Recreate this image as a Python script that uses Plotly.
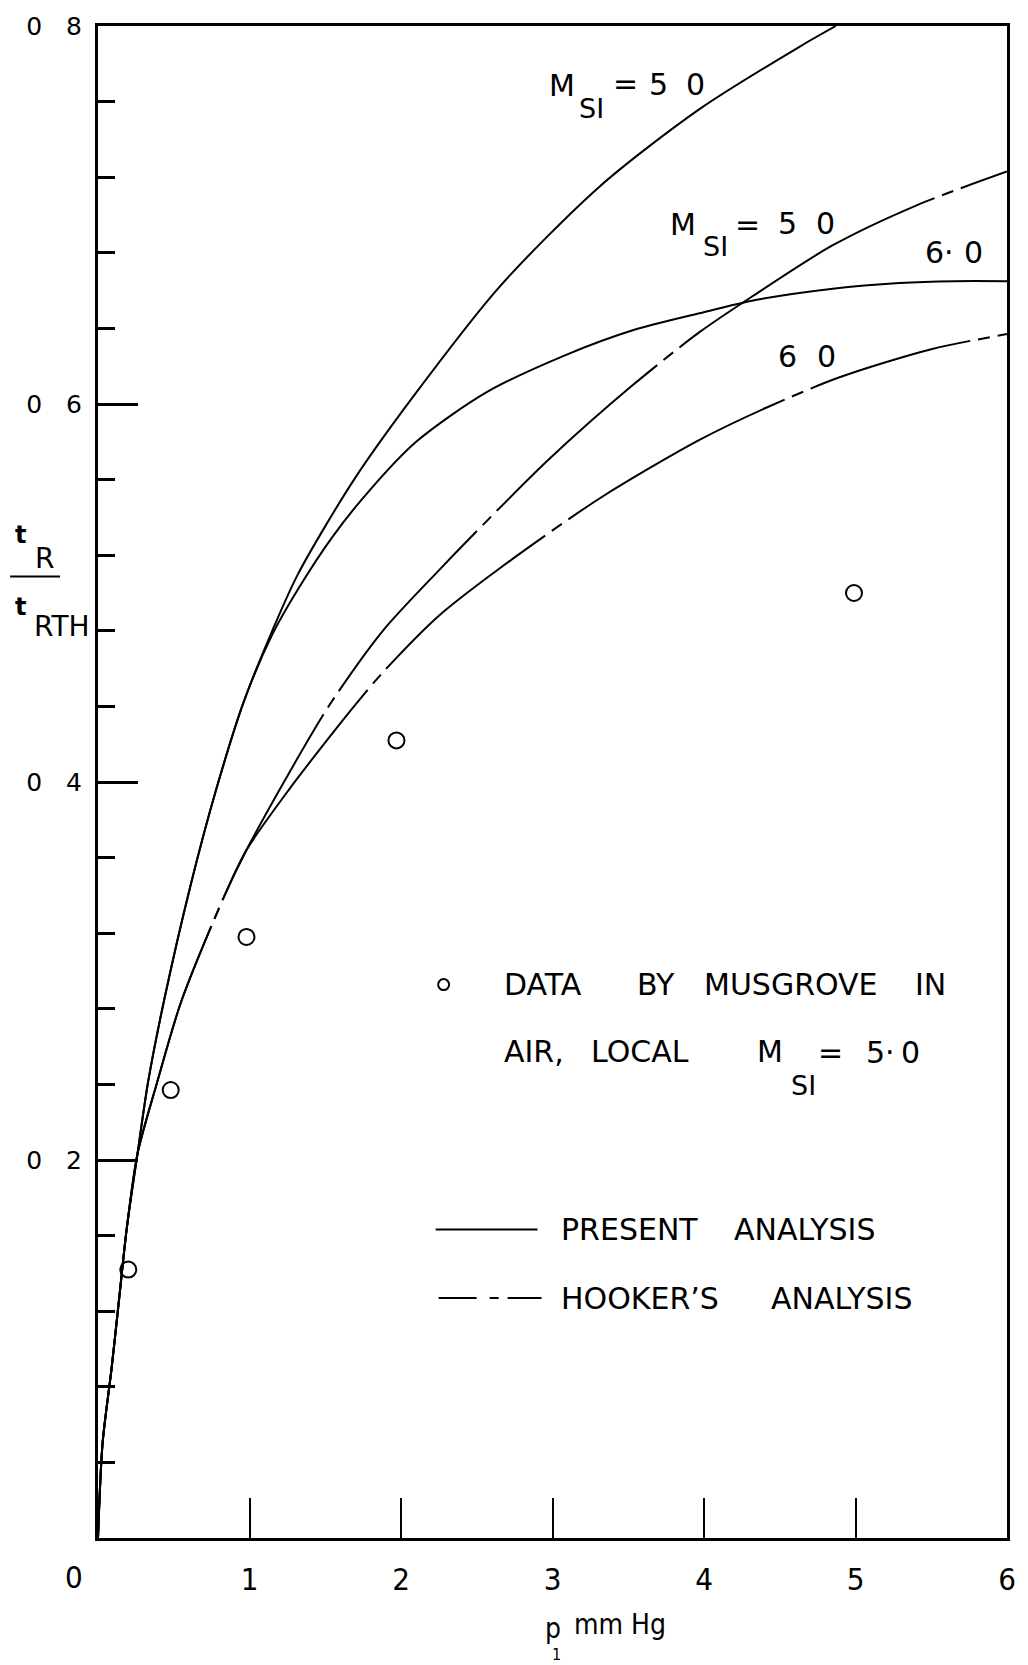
import plotly.graph_objects as go

# ---- curve data: t_R / t_RTH against p1 (mm Hg) ----
# Present analysis, M_SI = 5.0
present_m5_x = [0, 0.03, 0.09, 0.14, 0.19, 0.26, 0.33, 0.435, 0.61, 0.78, 0.96, 1.15, 1.32,
                1.69, 2.10, 2.65, 3.31, 3.97, 4.63, 4.87]
present_m5_y = [0, 0.50, 0.90, 1.27, 1.64, 2.03, 2.41, 2.84, 3.45, 3.96, 4.42, 4.80, 5.10,
                5.60, 6.06, 6.62, 7.15, 7.56, 7.89, 8.00]

# Present analysis, M_SI = 6.0
present_m6_x = [0, 0.03, 0.09, 0.14, 0.19, 0.26, 0.33, 0.435, 0.61, 0.78, 0.96, 1.15, 1.32,
                1.55, 1.80, 2.10, 2.56, 3.09, 3.53, 3.97, 4.34, 4.85, 5.29, 5.65, 6.00]
present_m6_y = [0, 0.50, 0.90, 1.27, 1.64, 2.03, 2.41, 2.84, 3.45, 3.96, 4.42, 4.78, 5.02,
                5.30, 5.55, 5.80, 6.06, 6.26, 6.39, 6.48, 6.55, 6.61, 6.64, 6.65, 6.65]

# Hooker's analysis, M_SI = 5.0
hooker_m5_x = [0, 0.03, 0.09, 0.14, 0.19, 0.26, 0.39, 0.55, 0.83, 0.98, 1.27, 1.53, 1.88,
               2.25, 2.43, 2.98, 3.53, 3.97, 4.32, 4.85, 5.40, 6.00]
hooker_m5_y = [0, 0.50, 0.90, 1.27, 1.64, 2.03, 2.41, 2.84, 3.39, 3.64, 4.06, 4.41, 4.80,
               5.12, 5.27, 5.71, 6.10, 6.38, 6.57, 6.84, 7.05, 7.23]

# Hooker's analysis, M_SI = 6.0
hooker_m6_x = [0, 0.03, 0.09, 0.14, 0.19, 0.26, 0.39, 0.55, 0.83, 0.98, 1.27, 1.53, 1.71,
               1.88, 2.25, 2.65, 3.31, 3.97, 4.41, 4.89, 5.50, 6.00]
hooker_m6_y = [0, 0.50, 0.90, 1.27, 1.64, 2.03, 2.41, 2.84, 3.39, 3.64, 3.97, 4.24, 4.42,
               4.58, 4.88, 5.13, 5.50, 5.81, 5.98, 6.14, 6.29, 6.37]

# Musgrove's measurements in air, local M_SI = 5.0
musgrove_x = [0.20, 0.48, 0.98, 1.97, 4.99]
musgrove_y = [1.42, 2.37, 3.18, 4.22, 5.00]

x_tick_vals = [1, 2, 3, 4, 5, 6]
x_tick_text = ["1", "2", "3", "4", "5", "6"]
y_tick_vals = [0, 2, 4, 6, 8]
y_tick_text = ["", "0\u00a0\u00a0\u00a02", "0\u00a0\u00a0\u00a04", "0\u00a0\u00a0\u00a06", "0\u00a0\u00a0\u00a08"]

# ---- canvas geometry ----
W, H = 1028, 1665
ML, MR, MT, MB = 98, 20, 19, 127
PW, PH = W - ML - MR, H - MT - MB

FONT = "DejaVu Sans"
COND = "DejaVu Sans Condensed, DejaVu Sans"
INK = "black"


def paper(px, py):
    """Canvas pixel position -> paper coordinates."""
    return (px - ML) / PW, (H - MB - py) / PH


def chain(*runs):
    """Chain-line dash: long runs separated by a gap / short dash / gap group."""
    parts = []
    for r in runs:
        parts += [f"{r}px", "8px", "12px", "8px"]
    parts += ["3000px", "8px"]
    return ",".join(parts)


fig = go.Figure()

curve = dict(color=INK, width=2, shape="spline", smoothing=0.8)

fig.add_trace(go.Scatter(x=present_m5_x, y=present_m5_y, mode="lines", line=curve,
                         name="Present analysis, M_SI = 5", showlegend=False))
fig.add_trace(go.Scatter(x=present_m6_x, y=present_m6_y, mode="lines", line=curve,
                         name="Present analysis, M_SI = 6", showlegend=False))
fig.add_trace(go.Scatter(x=hooker_m5_x, y=hooker_m5_y, mode="lines",
                         line=dict(curve, dash=chain(626, 212, 212, 217, 297)),
                         name="Hooker's analysis, M_SI = 5", showlegend=False))
fig.add_trace(go.Scatter(x=hooker_m6_x, y=hooker_m6_y, mode="lines",
                         line=dict(curve, dash=chain(626, 257, 208, 248, 167)),
                         name="Hooker's analysis, M_SI = 6", showlegend=False))
fig.add_trace(go.Scatter(x=musgrove_x, y=musgrove_y, mode="markers",
                         marker=dict(symbol="circle-open", size=16, color=INK, line=dict(width=2, color=INK)),
                         name="Musgrove", showlegend=False))


def label(text, px, py, size=30, family=FONT, anchor="left"):
    x, y = paper(px, py)
    fig.add_annotation(text=text, x=x, y=y, xref="paper", yref="paper",
                       xanchor=anchor, yanchor="middle", showarrow=False,
                       font=dict(family=family, size=size, color=INK))


# curve labels
label("M", 547, 79)
label("SI", 578, 102, size=27)
label("=", 612, 77)
label("5", 648, 78)
label("0", 685, 78)

label("M", 669, 218)
label("SI", 702, 241, size=27)
label("=", 734, 218)
label("5", 777, 217)
label("0", 815, 217)

label("6\u00b7", 924, 247)
label("0", 963, 247)

label("6", 777, 351)
label("0", 816, 351)

# key
cx, cy = paper(444, 982)
rx, ry = 5.5 / PW, 5.5 / PH
fig.add_shape(type="circle", xref="paper", yref="paper", x0=cx - rx, x1=cx + rx, y0=cy - ry, y1=cy + ry,
              line=dict(color=INK, width=2))
label("DATA", 502, 982)
label("BY", 636, 982)
label("MUSGROVE", 703, 982)
label("IN", 914, 982)
label("AIR,", 502, 1049)
label("LOCAL", 590, 1049)
label("M", 756, 1049)
label("SI", 790, 1083, size=27)
label("=", 817, 1050)
label("5\u00b7", 865, 1050)
label("0", 900, 1050)

x0, y0 = paper(436, 1228)
x1, _ = paper(538, 1228)
fig.add_shape(type="line", xref="paper", yref="paper", x0=x0, x1=x1, y0=y0, y1=y0,
              line=dict(color=INK, width=2))
label("PRESENT", 560, 1228)
label("ANALYSIS", 733, 1228)

x0, y0 = paper(439, 1297)
x1, _ = paper(542, 1297)
fig.add_shape(type="line", xref="paper", yref="paper", x0=x0, x1=x1, y0=y0, y1=y0,
              line=dict(color=INK, width=2, dash="38px,13px,9px,9px"))
label("HOOKER\u2019S", 560, 1297)
label("ANALYSIS", 770, 1297)

# y-axis title: t_R / t_RTH
label("<b>t</b>", 20, 530, size=24, anchor="center")
label("R", 44, 554, size=28, anchor="center")
fx0, fy = paper(10, 572)
fx1, _ = paper(60, 572)
fig.add_shape(type="line", xref="paper", yref="paper", x0=fx0, x1=fx1, y0=fy, y1=fy,
              line=dict(color=INK, width=2))
label("<b>t</b>", 20, 603, size=24, anchor="center")
label("RTH", 62, 622, size=28, anchor="center")

# x-axis title: p1 mm Hg, and the origin label
label("p", 554, 1629, size=28, family=COND, anchor="center")
label("1", 557, 1655, size=16, family=COND, anchor="center")
label("mm Hg", 573, 1625, size=28, family=COND)
label("0", 74, 1577, size=31, family=COND, anchor="center")

fig.update_layout(
    width=W, height=H,
    margin=dict(l=ML, r=MR, t=MT, b=MB),
    paper_bgcolor="white", plot_bgcolor="white",
    showlegend=False,
    xaxis=dict(
        range=[0, 6], showgrid=False, zeroline=False,
        showline=True, linecolor=INK, linewidth=3, mirror=True,
        ticks="inside", ticklen=40, tickwidth=2, tickcolor=INK,
        tickmode="array", tickvals=x_tick_vals, ticktext=x_tick_text,
        tickfont=dict(family=COND, size=31, color=INK), ticklabelstandoff=12,
    ),
    yaxis=dict(
        range=[0, 8], showgrid=False, zeroline=False,
        showline=True, linecolor=INK, linewidth=3, mirror=True,
        ticks="inside", ticklen=40, tickwidth=3, tickcolor=INK,
        tickmode="array", tickvals=y_tick_vals, ticktext=y_tick_text,
        tickfont=dict(family=FONT, size=25, color=INK), ticklabelstandoff=8,
        minor=dict(tickmode="linear", tick0=0, dtick=0.4, ticks="inside", ticklen=17,
                   tickwidth=3, tickcolor=INK, showgrid=False),
    ),
)

fig.write_html("out.html")
